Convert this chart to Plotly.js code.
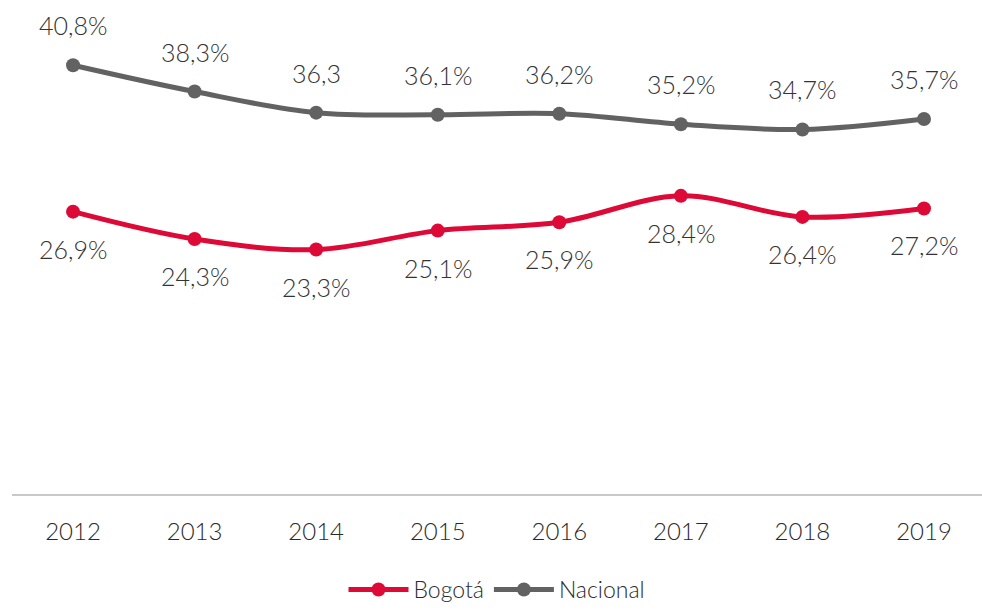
<!DOCTYPE html>
<html>
<head>
<meta charset="utf-8">
<script src="https://cdn.plot.ly/plotly-3.0.1.min.js"></script>
<style>html,body{margin:0;padding:0;background:#fff;}#chart{width:982px;height:611px;}</style>
</head>
<body>
<div id="chart"></div>
<script>
var years = ["2012","2013","2014","2015","2016","2017","2018","2019"];
var bogota = [26.9, 24.3, 23.3, 25.1, 25.9, 28.4, 26.4, 27.2];
var nacional = [40.8, 38.3, 36.3, 36.1, 36.2, 35.2, 34.7, 35.7];
var bogotaLabels = ["26,9%","24,3%","23,3%","25,1%","25,9%","28,4%","26,4%","27,2%"];
var nacionalLabels = ["40,8%","38,3%","36,3","36,1%","36,2%","35,2%","34,7%","35,7%"];

var FONT = "Lato, 'Open Sans', sans-serif";
var RED = "#DD0A37";
var GRAY = "#626262";

var traces = [
  {x: years, y: bogota, name: "Bogotá", type: "scatter", mode: "lines+markers",
   line: {color: RED, width: 5, shape: "spline", smoothing: 1},
   marker: {color: RED, size: 14}, hoverinfo: "skip"},
  {x: years, y: nacional, name: "Nacional", type: "scatter", mode: "lines+markers",
   line: {color: GRAY, width: 5, shape: "spline", smoothing: 1},
   marker: {color: GRAY, size: 14}, hoverinfo: "skip"}
];

var annotations = [];
for (var i = 0; i < years.length; i++) {
  annotations.push({xref: "x", yref: "y", x: i, y: nacional[i], text: nacionalLabels[i], showarrow: false, yshift: 40,
    font: {family: FONT, size: 25, color: "#333333", weight: 300}});
  annotations.push({xref: "x", yref: "y", x: i, y: bogota[i], text: bogotaLabels[i], showarrow: false, yshift: -37,
    font: {family: FONT, size: 25, color: "#333333", weight: 300}});
}

var layout = {
  width: 982, height: 611,
  margin: {l: 12, r: 0, t: 21, b: 114},
  paper_bgcolor: "#fff", plot_bgcolor: "#fff",
  showlegend: true,
  legend: {orientation: "h", x: 0.5, xanchor: "center", y: -0.2, yanchor: "middle",
    font: {family: FONT, size: 23, color: "#2a2a2a", weight: 300}, itemwidth: 60},
  xaxis: {type: "category", range: [-0.502, 7.477], showgrid: false, zeroline: false,
    showline: false, ticks: "", tickfont: {family: FONT, size: 24, color: "#2a2a2a", weight: 300},
    ticklabelstandoff: 20},
  yaxis: {range: [0, 45], showgrid: false, zeroline: true, zerolinecolor: "#c8c8c8", zerolinewidth: 1.5,
    showticklabels: false, showline: false, ticks: ""},
  annotations: annotations
};

Plotly.newPlot("chart", traces, layout, {displayModeBar: false, staticPlot: true});
</script>
</body>
</html>
